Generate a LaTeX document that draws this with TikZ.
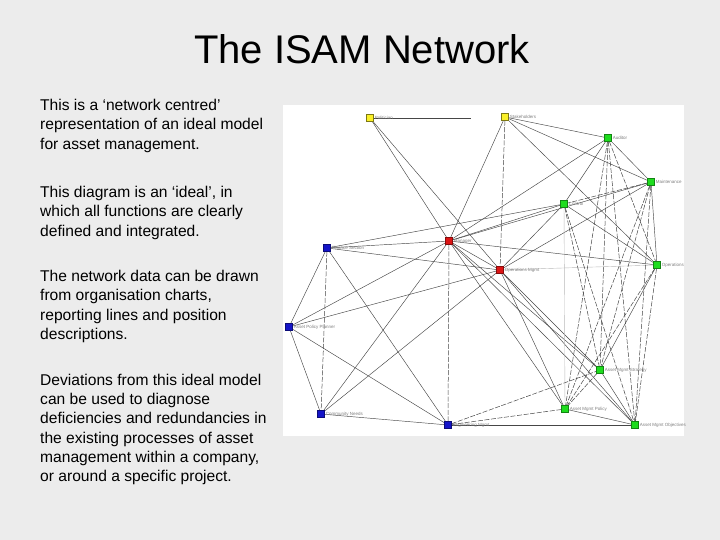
\documentclass[tikz,border=0pt]{standalone}
\usepackage{fontspec}
\setmainfont{Liberation Sans}
\usetikzlibrary{backgrounds}
\pgfdeclarelayer{edgelayer}
\pgfsetlayers{background,edgelayer,main}
\definecolor{slidebg}{RGB}{236,236,236}
\definecolor{ylw}{RGB}{250,240,40}
\definecolor{grn}{RGB}{30,220,30}
\definecolor{rd}{RGB}{220,20,20}
\definecolor{blu}{RGB}{20,20,200}
\definecolor{edgegray}{RGB}{70,70,70}
\tikzset{
  body/.style={anchor=base west, inner sep=0pt, font=\fontsize{15.6}{19}\selectfont},
  vert/.style={rectangle, minimum size=7pt, inner sep=0pt, line width=0.3pt},
  yv/.style={vert, fill=ylw, draw=ylw!50!black},
  gv/.style={vert, fill=grn, draw=grn!60!black},
  rv/.style={vert, fill=rd, draw=rd!60!black},
  bv/.style={vert, fill=blu, draw=blu!60!black},
  lab/.style={anchor=west, inner sep=1pt, text=gray, font=\fontsize{4.5}{4.5}\selectfont},
  ed/.style={draw=edgegray, line width=0.45pt},
  ded/.style={draw=edgegray, line width=0.5pt, dash pattern=on 5pt off 1.6pt},
  led/.style={draw=gray!55, line width=0.4pt}
}
\begin{document}
\begin{tikzpicture}[x=1pt,y=-1pt]
\useasboundingbox (0,0) rectangle (720,540);
\begin{pgfonlayer}{background}
  \fill[slidebg] (0,0) rectangle (720,540);
  \fill[white] (283,105) rectangle (684,436);
\end{pgfonlayer}

% Title
\node[anchor=base, inner sep=0pt, font=\fontsize{40}{40}\selectfont] (title) at (362,64) {The ISAM Network};

% Body text
\node[body] (p1a) at (40,110.5) {This is a ‘network centred’};
\node[body] (p1b) at (40,129.8) {representation of an ideal model};
\node[body] (p1c) at (40,149.1) {for asset management.};
\node[body] (p2a) at (40,197.5) {This diagram is an ‘ideal’, in};
\node[body] (p2b) at (40,216.8) {which all functions are clearly};
\node[body] (p2c) at (40,236.1) {defined and integrated.};
\node[body] (p3a) at (40,281.5) {The network data can be drawn};
\node[body] (p3b) at (40,300.8) {from organisation charts,};
\node[body] (p3c) at (40,320.1) {reporting lines and position};
\node[body] (p3d) at (40,339.4) {descriptions.};
\node[body] (p4a) at (40,385.5) {Deviations from this ideal model};
\node[body] (p4b) at (40,404.7) {can be used to diagnose};
\node[body] (p4c) at (40,423.9) {deficiencies and redundancies in};
\node[body] (p4d) at (40,443.1) {the existing processes of asset};
\node[body] (p4e) at (40,462.3) {management within a company,};
\node[body] (p4f) at (40,481.5) {or around a specific project.};

% Network vertices
\node[yv] (y1) at (370,118) {};
\node[yv] (y2) at (505,117) {};
\node[gv] (aud) at (608,138) {};
\node[gv] (mnt) at (651,182) {};
\node[gv] (ctl) at (564,204) {};
\node[rv] (r1) at (449,241) {};
\node[bv] (bt) at (327,248) {};
\node[rv] (r2) at (500,270) {};
\node[gv] (ops) at (657,265) {};
\node[bv] (bl) at (289,327) {};
\node[gv] (str) at (600,370) {};
\node[bv] (bc) at (321,414) {};
\node[gv] (pol) at (565,409) {};
\node[bv] (be) at (448,425) {};
\node[gv] (obj) at (635,425) {};
\coordinate (stub) at (471,118);

% Labels
\node[lab] (ly1) at (y1.east) {Politician};
\node[lab] (ly2) at (y2.east) {Stakeholders};
\node[lab] (laud) at (aud.east) {Auditor};
\node[lab] (lmnt) at (mnt.east) {Maintenance};
\node[lab] (lctl) at (ctl.east) {Control};
\node[lab] (lr1) at (r1.east) {Manager};
\node[lab] (lbt) at (bt.east) {Finance Section};
\node[lab] (lr2) at (r2.east) {Operations Mgmt};
\node[lab] (lops) at (ops.east) {Operations};
\node[lab] (lbl) at (bl.east) {Asset Policy Planner};
\node[lab] (lstr) at (str.east) {Asset Mgmt Strategy};
\node[lab] (lbc) at (bc.east) {Community Needs};
\node[lab] (lpol) at (pol.east) {Asset Mgmt Policy};
\node[lab] (lbe) at (be.east) {Engineering Mgmt};
\node[lab] (lobj) at (obj.east) {Asset Mgmt Objectives};

% Edges
\begin{pgfonlayer}{edgelayer}
  \draw[draw=edgegray, line width=0.8pt] (y1) -- (stub);
  \draw[ed] (y1) -- (r1);
  \draw[ed] (y1) -- (r2);
  \draw[ed] (y2) -- (aud);
  \draw[ed] (y2) -- (mnt);
  \draw[ed] (y2) -- (r1);
  \draw[ded] (y2) -- (r2);
  \draw[ed] (y2) -- (ops);
  \draw[ed] (bt) -- (r1);
  \draw[ed] (bt) -- (r2);
  \draw[ed] (bt) -- (bl);
  \draw[ded] (bt) -- (bc);
  \draw[ed] (bt) -- (be);
  \draw[ed] (bt) -- (ctl);
  \draw[ed] (bl) -- (bc);
  \draw[ed] (bl) -- (be);
  \draw[ed] (bl) -- (r1);
  \draw[ed] (bl) -- (r2);
  \draw[ed] (bc) -- (be);
  \draw[ed] (bc) -- (r1);
  \draw[ed] (bc) -- (r2);
  \draw[draw=edgegray, line width=0.7pt] (be) -- (obj);
  \draw[ded] (be) -- (pol);
  \draw[ded] (be) -- (str);
  \draw[ded] (be) -- (r1);
  \draw[ed] (r1) -- (r2);
  \draw[ed] (r1) -- (ops);
  \draw[ed] (r1) -- (ctl);
  \draw[ed] (r1) -- (mnt);
  \draw[ed] (r1) -- (aud);
  \draw[ed] (r1) -- (str);
  \draw[ed] (r1) -- (obj);
  \draw[ed] (r1) -- (pol);
  \draw[led] (r2) -- (ops);
  \draw[ed] (r2) -- (str);
  \draw[ed] (r2) -- (obj);
  \draw[ed] (r2) -- (pol);
  \draw[ed] (r2) -- (ctl);
  \draw[ed] (r2) -- (mnt);
  \draw[ed] (aud) -- (ctl);
  \draw[ed] (aud) -- (mnt);
  \draw[ded] (aud) -- (ops);
  \draw[ded] (aud) -- (str);
  \draw[ded] (aud) -- (pol);
  \draw[ded] (aud) -- (obj);
  \draw[ded] (mnt) -- (ctl);
  \draw[ed] (mnt) -- (ops);
  \draw[ded] (mnt) -- (obj);
  \draw[ded] (mnt) -- (str);
  \draw[ded] (mnt) -- (pol);
  \draw[led] (ctl) -- (pol);
  \draw[ed] (ctl) -- (ops);
  \draw[ded] (ctl) -- (str);
  \draw[ded] (ctl) -- (obj);
  \draw[ded] (ops) -- (obj);
  \draw[ed] (ops) -- (str);
  \draw[ded] (ops) -- (pol);
  \draw[ed] (str) -- (obj);
  \draw[ded] (str) -- (pol);
  \draw[ed] (pol) -- (obj);
\end{pgfonlayer}
\end{tikzpicture}
\end{document}
